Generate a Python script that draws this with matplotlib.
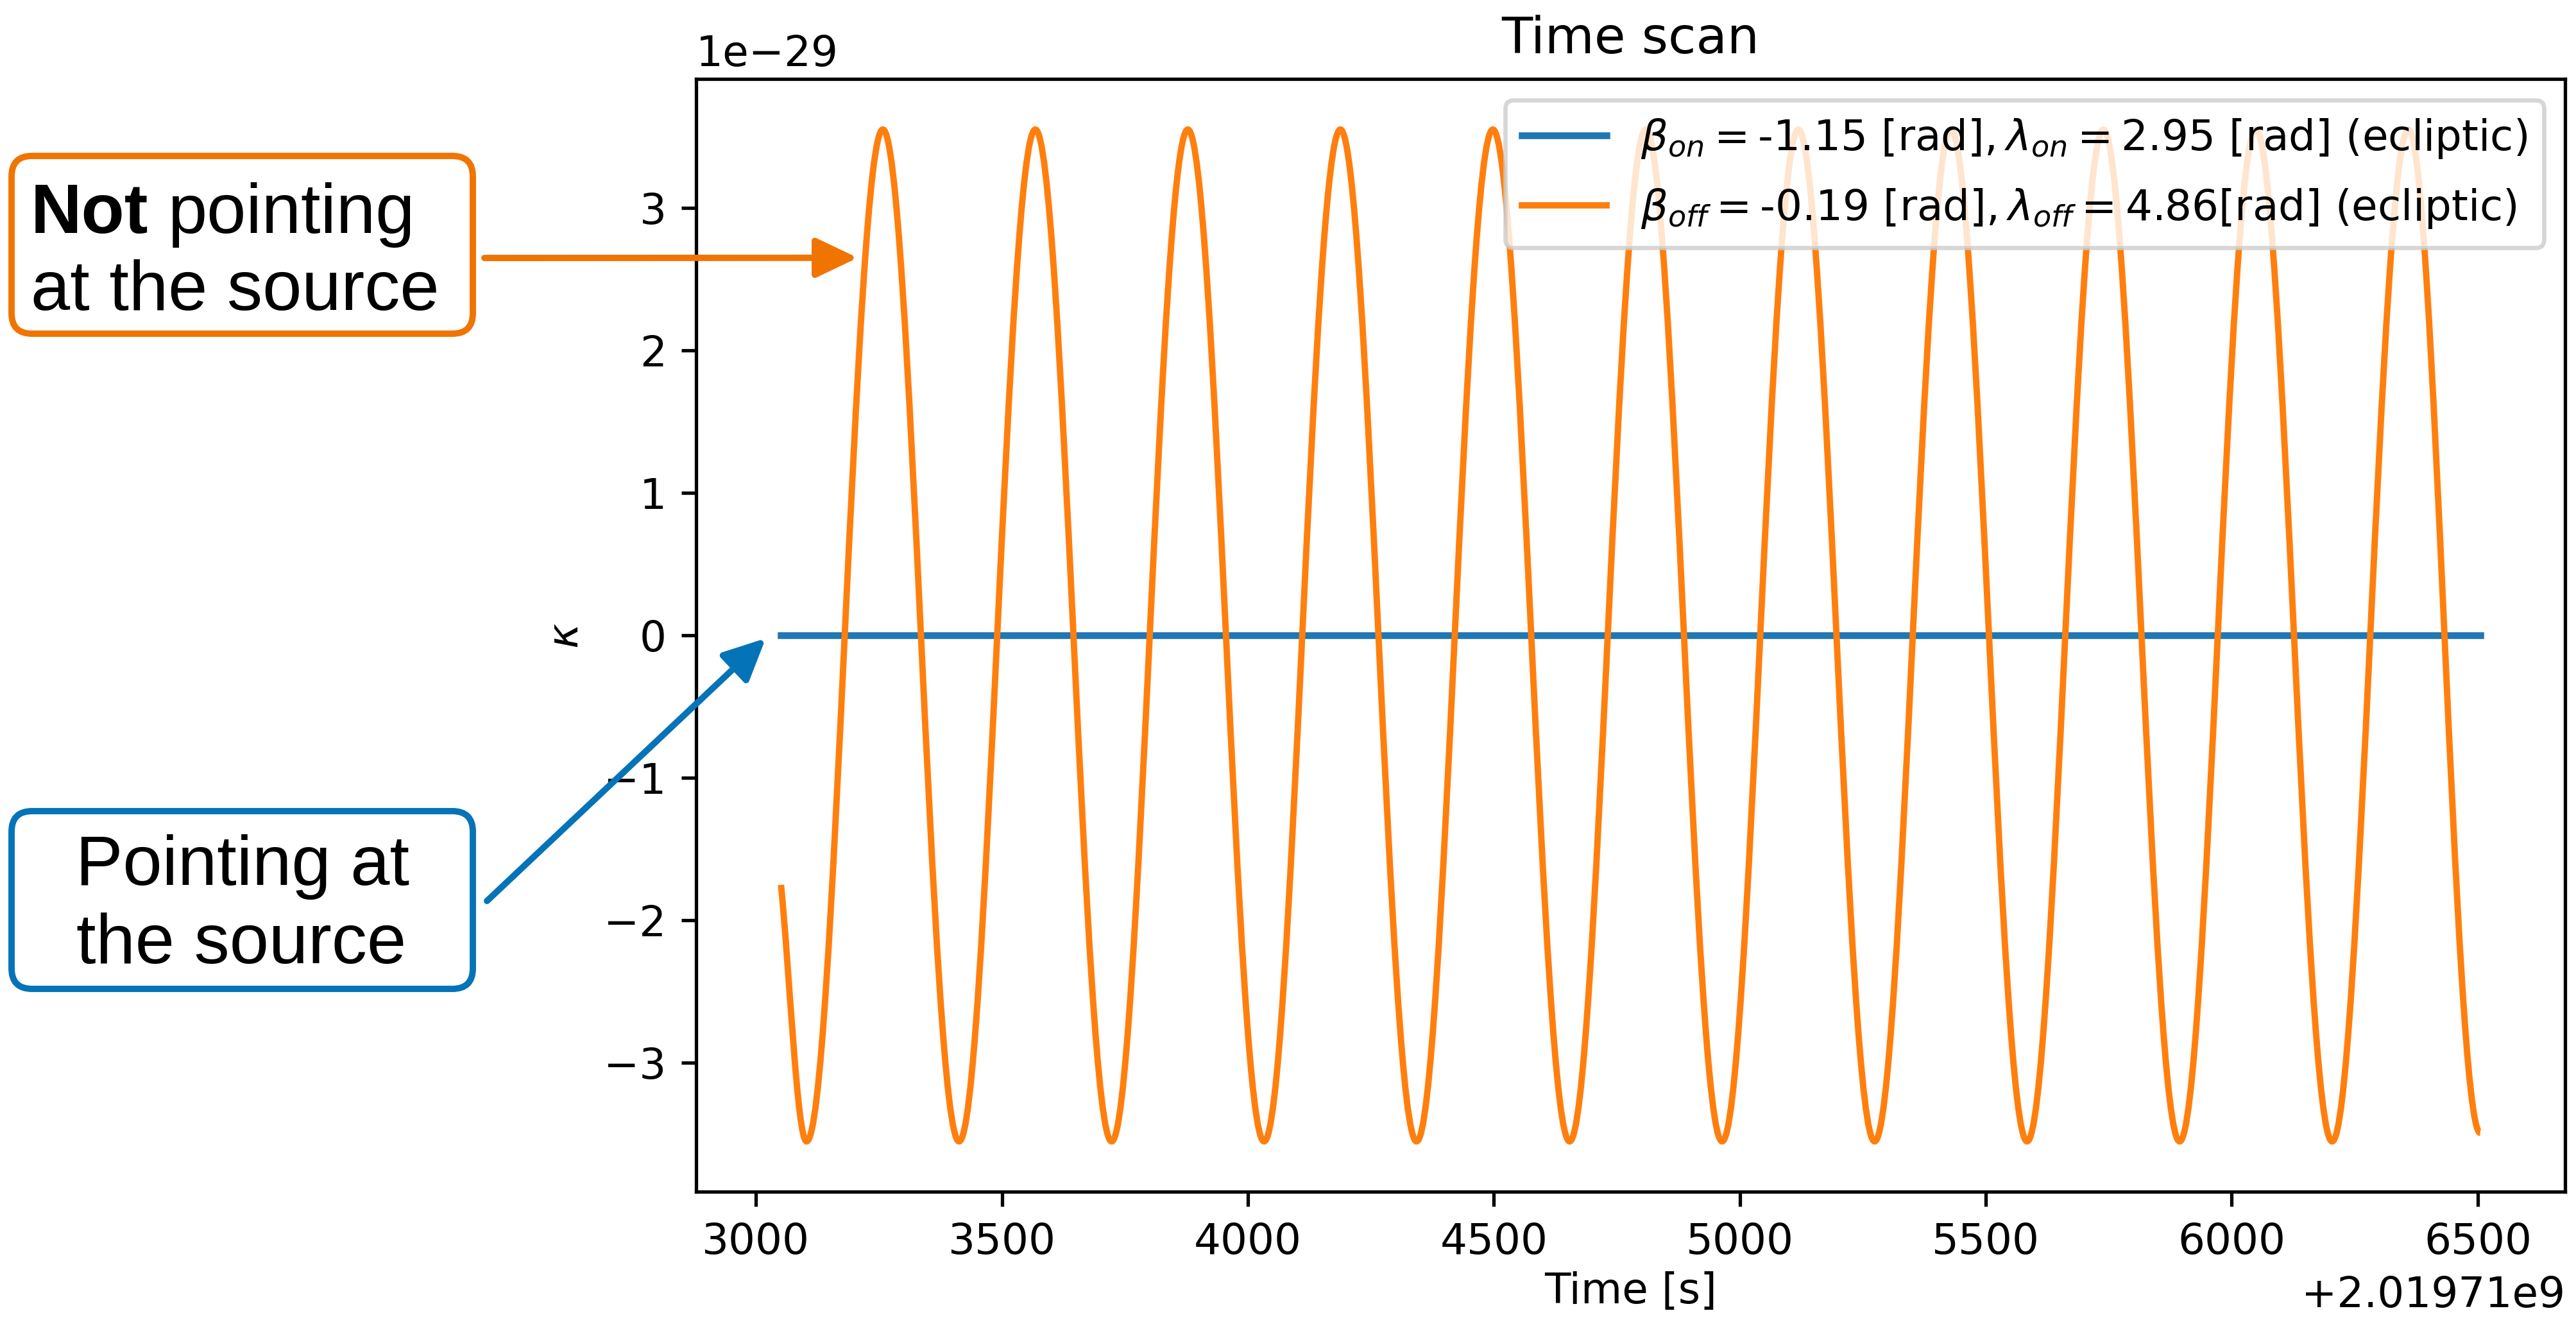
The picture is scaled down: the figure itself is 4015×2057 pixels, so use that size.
import numpy as np
import matplotlib
matplotlib.use('Agg')
import matplotlib.pyplot as plt
from matplotlib.path import Path
from matplotlib.patches import PathPatch, FancyBboxPatch
from matplotlib.lines import Line2D
from matplotlib.transforms import IdentityTransform

# time offset of the scan [s]
t_offset = 2.01971e9

# kappa when pointing at the source (flat at zero), units of 1e-29
t_on = [3051, 6505]
kappa_on = [0.0, 0.0]

# kappa when not pointing at the source: start, troughs / peaks, end (units of 1e-29)
t_off = [3051, 3103, 3258, 3413, 3568, 3723, 3878, 4033, 4188, 4343, 4498, 4654,
         4809, 4964, 5119, 5274, 5429, 5584, 5739, 5894, 6049, 6204, 6359, 6505]
kappa_off = [-1.75, -3.55, 3.55, -3.55, 3.55, -3.55, 3.55, -3.55, 3.55, -3.55, 3.55, -3.55,
             3.55, -3.55, 3.55, -3.55, 3.55, -3.55, 3.55, -3.55, 3.55, -3.55, 3.55, -3.49]

label_on = r'$\beta_{on}=$-1.15 [rad]$,\lambda_{on}=$2.95 [rad] (ecliptic)'
label_off = r'$\beta_{off}=$-0.19 [rad]$,\lambda_{off}=$4.86[rad] (ecliptic)'

ORANGE = '#f07400'
BLUE = '#0573b8'
W, H = 4015, 2057


def wave_path(ts, ys):
    # smooth curve through the extrema: horizontal handles at every turning point
    c = 1 - 2 / np.pi
    verts = [(ts[0], ys[0])]
    codes = [Path.MOVETO]
    for i in range(len(ts) - 1):
        x0, y0, x1, y1 = ts[i], ys[i], ts[i + 1], ys[i + 1]
        h = x1 - x0
        if i == 0:
            p1 = (x0 + h / 3, y0 + (y1 - y0) / 3)
        else:
            p1 = (x0 + c * h, y0)
        p2 = (x1 - c * h, y1)
        verts += [p1, p2, (x1, y1)]
        codes += [Path.CURVE4] * 3
    return Path(verts, codes)


fig = plt.figure(figsize=(W / 475, H / 475), dpi=475)
ax = fig.add_axes([0.2702, 0.097, 0.7256, 0.8432])

x_on = t_offset + np.array(t_on, dtype=float)
y_on = np.array(kappa_on) * 1e-29
line_on, = ax.plot(x_on, y_on, color='C0', lw=1.6, label=label_on)

x_off = t_offset + np.array(t_off, dtype=float)
y_off = np.array(kappa_off) * 1e-29
ax.add_patch(PathPatch(wave_path(x_off, y_off), fill=False, edgecolor='C1',
                       lw=1.5, zorder=2.1))
ax.autoscale_view()

handle_off = Line2D([], [], color='C1', lw=1.5)
ax.legend([line_on, handle_off], [label_on, label_off], loc='upper right',
          labelspacing=0.62)

ax.set_title('Time scan')
ax.set_xlabel('Time [s]', labelpad=2)
ax.set_ylabel(r'$\kappa$')

# annotation boxes (figure pixels)
px = IdentityTransform()
for y0, col in [(1537, ORANGE), (516, BLUE)]:
    box = FancyBboxPatch((18, y0), 719, 277, boxstyle='round,pad=0,rounding_size=32',
                         transform=px, fc='white', ec=col, lw=1.5)
    fig.add_artist(box)

tfont = dict(fontfamily='Liberation Sans', fontsize=16.7)
not_txt = fig.text(48, H - 363, 'Not', transform=px, va='baseline',
                   fontweight='bold', **tfont)
renderer = fig.canvas.get_renderer()
bb = not_txt.get_window_extent(renderer)
fig.text(bb.x1 + 30, H - 363, 'pointing', transform=px, va='baseline', **tfont)
fig.text(48, H - 483, 'at the source', transform=px, va='baseline', **tfont)
fig.text(378, H - 1379, 'Pointing at', transform=px, va='baseline', ha='center', **tfont)
fig.text(376, H - 1501, 'the source', transform=px, va='baseline', ha='center', **tfont)

arrow = dict(arrowstyle='-|>,head_length=0.42,head_width=0.2', lw=1.5,
             mutation_scale=20, shrinkA=0, shrinkB=0)
ax.annotate('', xy=(t_offset + 3207, 2.65e-29), xycoords='data',
            xytext=(755, H - 402), textcoords='figure pixels',
            arrowprops=dict(color=ORANGE, **arrow))
ax.annotate('', xy=(t_offset + 3020, -0.02e-29), xycoords='data',
            xytext=(759, H - 1404), textcoords='figure pixels',
            arrowprops=dict(color=BLUE, **arrow))

fig.savefig('out.png', dpi=475)
